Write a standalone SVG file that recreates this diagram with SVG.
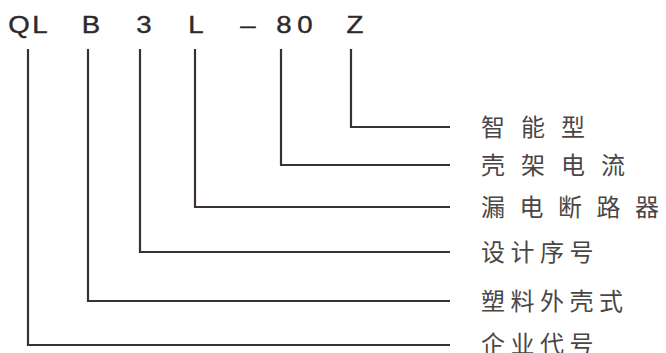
<svg xmlns="http://www.w3.org/2000/svg" width="666" height="353" viewBox="0 0 666 353">
<style>
.code{font-family:"Liberation Sans","DejaVu Sans",Arial,sans-serif;font-size:23px;fill:#2e2a2a;stroke:#2e2a2a;stroke-width:0.4;text-anchor:middle}
.lab{font-family:"Noto Sans CJK SC","Noto Sans CJK TC",sans-serif;font-size:24px;fill:#4a4646}
.con{fill:none;stroke:#3a3232;stroke-width:2.2}
</style>
<rect width="666" height="353" fill="#ffffff"/>
<g id="code">
<text class="code" transform="translate(19,33) scale(1.2,1)">Q</text>
<text class="code" transform="translate(40,33) scale(1.2,1)">L</text>
<text class="code" transform="translate(91,33) scale(1.2,1)">B</text>
<text class="code" transform="translate(144,33) scale(1.2,1)">3</text>
<text class="code" transform="translate(196,33) scale(1.2,1)">L</text>
<text class="code" transform="translate(248,33) scale(1.2,1)">–</text>
<text class="code" transform="translate(284,33) scale(1.2,1)">8</text>
<text class="code" transform="translate(305,33) scale(1.2,1)">0</text>
<text class="code" transform="translate(355,33) scale(1.2,1)">Z</text>
</g>
<g id="connectors">
<polyline class="con" points="351,49 351,127 450,127"/>
<polyline class="con" points="281,49 281,165 450,165"/>
<polyline class="con" points="195,49 195,207 450,207"/>
<polyline class="con" points="140,49 140,252 450,252"/>
<polyline class="con" points="88,49 88,301 450,301"/>
<polyline class="con" points="28,49 28,345 450,345"/>
</g>
<g id="n-zhineng"><text class="lab" x="481 521 561" y="136">智能型</text></g>
<g id="n-kejia"><text class="lab" x="481 521 561 601" y="174">壳架电流</text></g>
<g id="n-loudian"><text class="lab" x="481 519.5 558 596.5 635" y="216">漏电断路器</text></g>
<g id="n-sheji"><text class="lab" x="481 510.5 540 569.5" y="261">设计序号</text></g>
<g id="n-suliao"><text class="lab" x="481 510.5 540 569.5 599" y="310">塑料外壳式</text></g>
<g id="n-qiye"><text class="lab" x="481 510.5 540 569.5" y="353">企业代号</text></g>
</svg>
